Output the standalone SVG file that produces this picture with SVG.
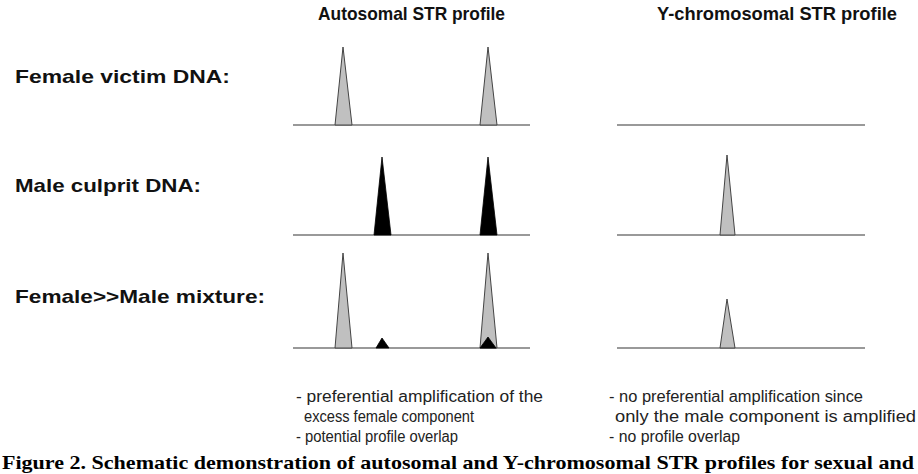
<svg xmlns="http://www.w3.org/2000/svg" width="918" height="474" viewBox="0 0 918 474">
<style>
.h{font-family:"Liberation Sans",Arial,sans-serif;font-weight:bold;font-size:19px;fill:#111}
.n{font-family:"Liberation Sans",Arial,sans-serif;font-size:16px;fill:#222}
.c{font-family:"Liberation Serif","Times New Roman",serif;font-weight:bold;font-size:19px;fill:#000}
.base{stroke:#777;stroke-width:1.5}
.g{fill:#c0c0c0;stroke:#444;stroke-width:1}
.b{fill:#000;stroke:#000;stroke-width:0.8}
</style>
<rect width="918" height="474" fill="#fff"/>
<text class="h" x="318" y="20" textLength="187" lengthAdjust="spacingAndGlyphs">Autosomal STR profile</text>
<text class="h" x="657" y="20" textLength="240" lengthAdjust="spacingAndGlyphs">Y-chromosomal STR profile</text>
<g id="row1">
<text class="h" x="15" y="83" textLength="215" lengthAdjust="spacingAndGlyphs">Female victim DNA:</text>
<line class="base" x1="293" y1="125" x2="530" y2="125"/>
<line class="base" x1="617" y1="125" x2="865" y2="125"/>
<polygon class="g" points="335,125 343,47 352,125"/>
<polygon class="g" points="480,125 488,47 497,125"/>
</g>
<g id="row2">
<text class="h" x="15" y="192" textLength="186" lengthAdjust="spacingAndGlyphs">Male culprit DNA:</text>
<line class="base" x1="293" y1="235" x2="530" y2="235"/>
<line class="base" x1="617" y1="235" x2="865" y2="235"/>
<polygon class="b" points="374,235 382,157 391,235"/>
<polygon class="b" points="480,235 488,157 497,235"/>
<polygon class="g" points="720,235 727,155 735,235"/>
</g>
<g id="row3">
<text class="h" x="15" y="303" textLength="250" lengthAdjust="spacingAndGlyphs">Female&gt;&gt;Male mixture:</text>
<line class="base" x1="293" y1="348" x2="530" y2="348"/>
<line class="base" x1="617" y1="348" x2="865" y2="348"/>
<polygon class="g" points="335,348 343,253 352,348"/>
<polygon class="b" points="376,348 382,338 389,348"/>
<polygon class="g" points="480,348 488,253 497,348"/>
<polygon class="b" points="480,348 488,337 496,348"/>
<polygon class="g" points="720,348 727,299 735,348"/>
</g>
<g id="notes">
<text class="n" x="296" y="402" textLength="247" lengthAdjust="spacingAndGlyphs">- preferential amplification of the</text>
<text class="n" x="304" y="422" textLength="170" lengthAdjust="spacingAndGlyphs">excess female component</text>
<text class="n" x="296" y="442" textLength="162" lengthAdjust="spacingAndGlyphs">- potential profile overlap</text>
<text class="n" x="609" y="402" textLength="254" lengthAdjust="spacingAndGlyphs">- no preferential amplification since</text>
<text class="n" x="615" y="422" textLength="301" lengthAdjust="spacingAndGlyphs">only the male component is amplified</text>
<text class="n" x="609" y="442" textLength="131" lengthAdjust="spacingAndGlyphs">- no profile overlap</text>
</g>
<text class="c" x="2" y="469" textLength="912" lengthAdjust="spacingAndGlyphs">Figure 2. Schematic demonstration of autosomal and Y-chromosomal STR profiles for sexual and</text>
</svg>
